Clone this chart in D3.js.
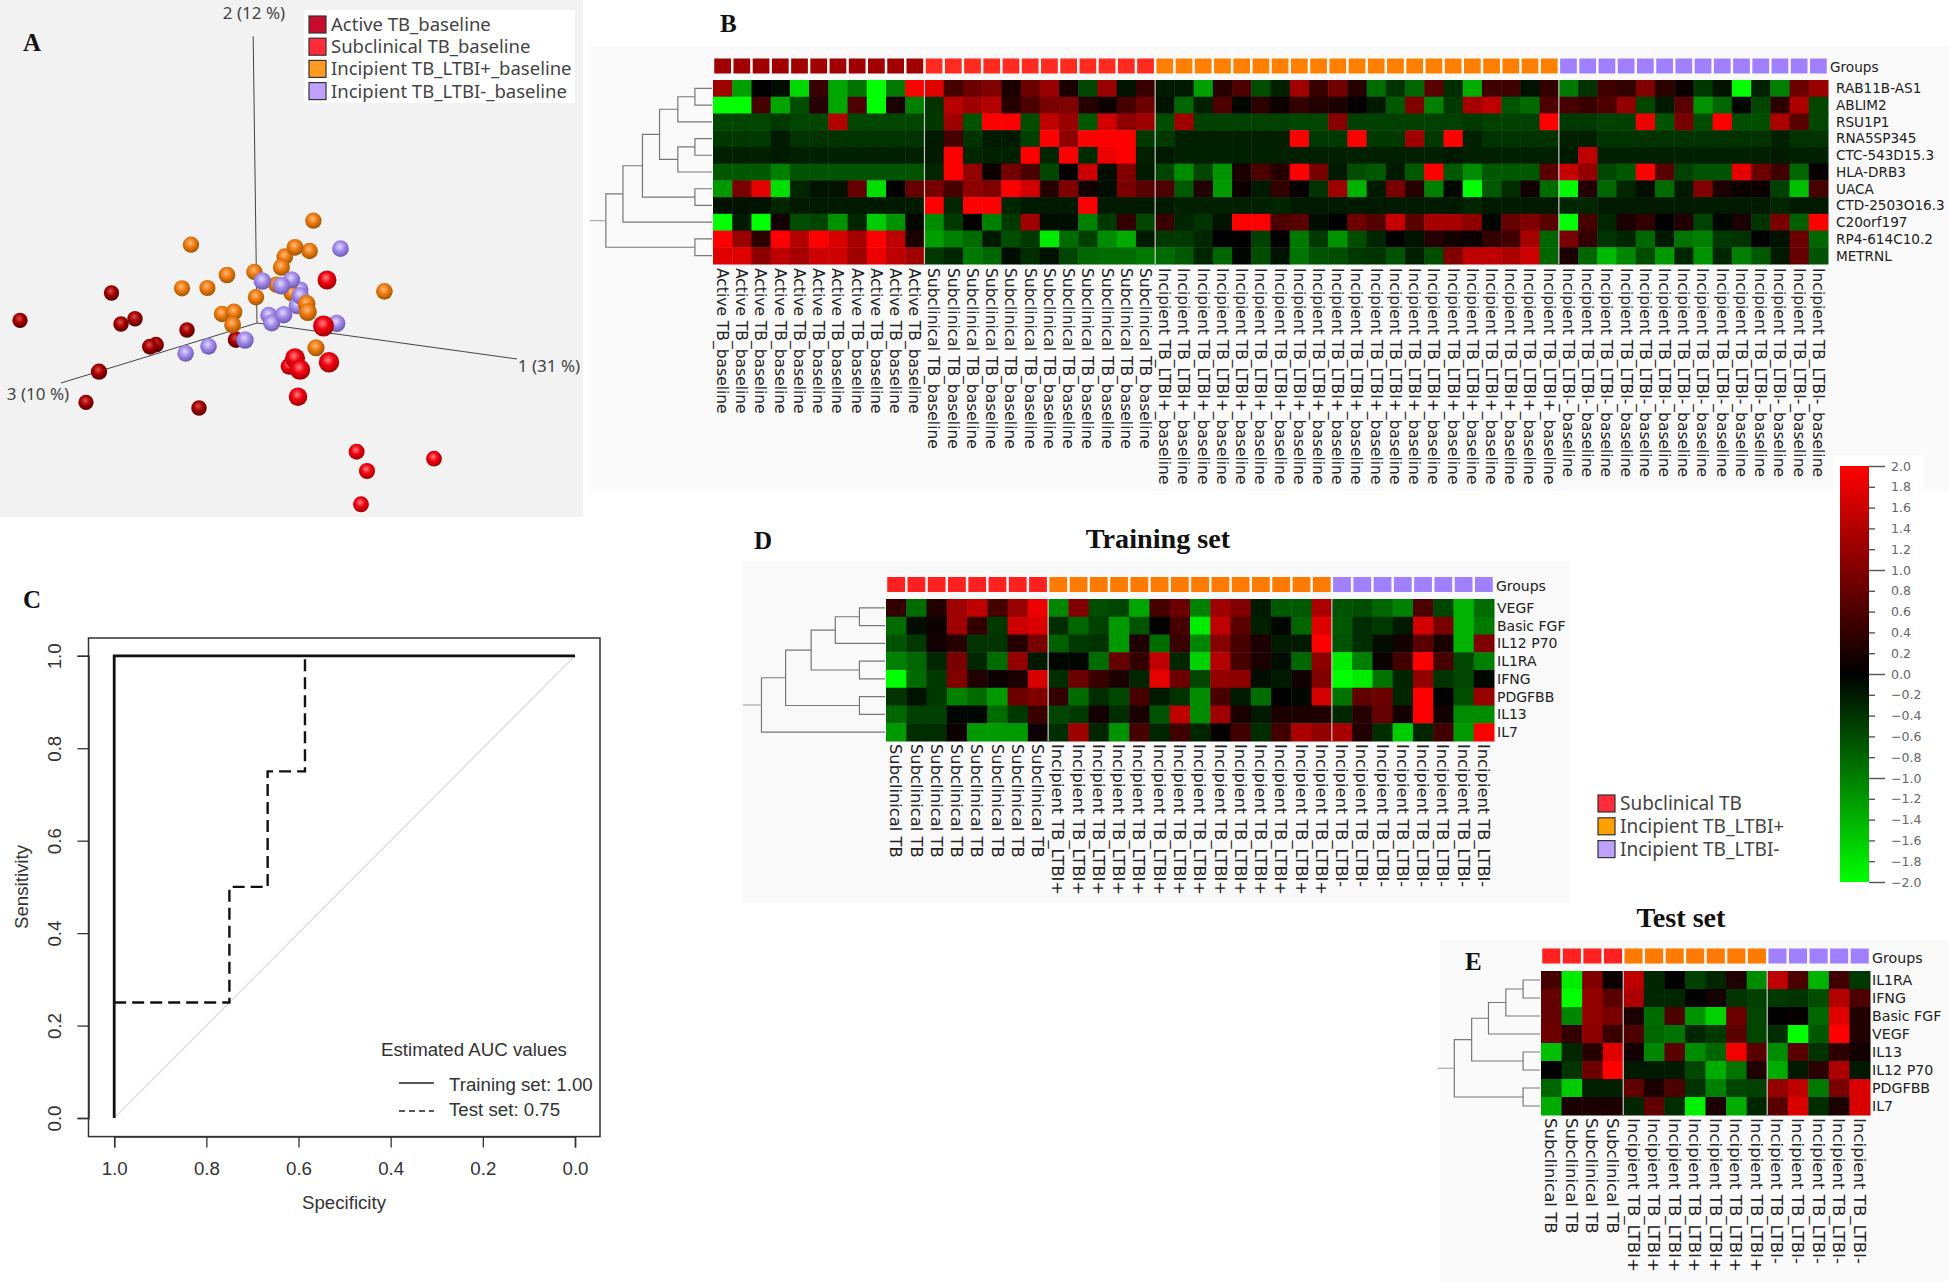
<!DOCTYPE html>
<html>
<head>
<meta charset="utf-8">
<title>TB baseline signatures</title>
<script src="https://cdn.jsdelivr.net/npm/d3@7"></script>
<style>
  html, body { margin: 0; padding: 0; background: #fff; }
  svg { display: block; }
  text { font-family: "DejaVu Sans", sans-serif; }
  .panel { font-family: "Liberation Serif", serif; font-weight: bold; fill: #111; }
  .soft { font-family: "Noto Sans", sans-serif; fill: #444; }
  .roc text { font-family: "Liberation Sans", sans-serif; fill: #333; }
</style>
</head>
<body>
<svg id="fig" width="1949" height="1281"></svg>
<script>
// ---- panel A: projected scores [pc horizontal, pc vertical, depth]
const activeScores = [[-145.5,30,.12],[-237,2.7,.12],[-122,4.3,.14],[-136,-1,.15],[-70,-7,.15],[-101,-21.7,.18],[-107,-23.7,.2],[-21,-16.7,.28],[-158,-48.7,.25],[-171,-79.3,.12],[-58,-85,.14]];
const subclinicalScores = [[70,43,.6],[66.5,-3,.85],[72,-39.3,.8],[38,-35.3,.75],[32,-43.3,.3],[43,-46.7,.78],[41,-73.7,.55],[99.6,-128.7,.2],[110,-148,.22],[177,-135.7,.18],[104,-181.3,.2]];
const ltbiPosScores = [[56.4,102.3,.25],[-66,78.3,.25],[38,75.7,.32],[52.6,72,.28],[27.8,66.3,.3],[24.4,55.7,.35],[-30,48,.3],[-2.6,51,.27],[-75,34.7,.24],[-49.6,35,.24],[127.4,31.7,.3],[19.5,38.3,.28],[34.6,30,.3],[-1,25.7,.27],[49.6,19.3,.45],[50.8,11,.5],[-35,9,.27],[-23,11,.31],[-24.4,-1.7,.33],[59,-24.7,.36]];
const ltbiNegScores = [[83.5,74.3,.3],[5.3,42,.4],[34.6,43.3,.36],[24.4,37.3,.42],[43.2,33.3,.29],[43.2,27.3,.4],[40.2,17.3,.38],[11.7,7.7,.33],[26.7,8.3,.4],[14.7,0,.35],[79.7,-.3,.4],[-12,-17,.4],[-48.5,-23.3,.3],[-71.4,-30.3,.3]];
const axisEnds = [[-3.8,286.7,"2 (12 %)"],[260,-36,"1 (31 %)"],[-196,-60,"3 (10 %)"]];

const legendA = ["Active TB_baseline","Subclinical TB_baseline","Incipient TB_LTBI+_baseline","Incipient TB_LTBI-_baseline"];
const legendD = ["Subclinical TB","Incipient TB_LTBI+","Incipient TB_LTBI-"];

// ---- panel B
const genesB = ["RAB11B-AS1","ABLIM2","RSU1P1","RNA5SP345","CTC-543D15.3","HLA-DRB3","UACA","CTD-2503O16.3","C20orf197","RP4-614C10.2","METRNL"];
const groupCountsB = [["Active TB_baseline",11],["Subclinical TB_baseline",12],["Incipient TB_LTBI+_baseline",21],["Incipient TB_LTBI-_baseline",14]];
const valuesB = [
 [1.25,-1.25,0,-.1,-1.7,.45,-1.3,-.9,-2,-.95,2,
  1.75,.55,.85,1,.2,.85,1.2,.2,-.55,1.2,-.15,.45,
  -.2,-.2,-1.25,.3,.6,-.6,-.25,1.25,.45,.9,.3,-.85,-.4,-.8,.7,-.35,-1.35,.5,.5,-.15,.4,
  -.95,-.4,.5,.4,1,.35,.1,-.45,-.15,-2,-.25,-1,.85,1.2],
 [-2,-2,.55,-1.3,-.6,.3,-1.3,.6,-2,.2,-1,
  -.4,1.45,1.25,1.4,.3,.6,.95,1,.3,.1,.55,.85,
  -.15,-.8,-.25,.6,-.05,.35,.1,.4,.25,.2,.05,-.2,-.7,1,-1,-.45,1.3,1.5,-.65,-.85,.6,
  .55,.45,.6,1.15,-.55,-.2,.7,-1.15,-.8,-.05,-.55,.35,1.35,-.55],
 [-.55,-.55,-.55,-.45,-.55,-.55,1.4,-.55,-.55,-.55,-.55,
  -.45,1.25,-.65,2,2,-.6,1.5,1.2,-.7,1.65,1.1,1.25,
  -.6,1.25,-.5,-.5,-.5,-.5,-.5,-.55,-.55,1.05,-.5,-.5,-.5,-.5,-.5,-.5,-.45,-.5,-.5,-.5,2,
  -.45,-.45,-.5,-.5,1.85,-.65,.95,-.6,2,-.6,-.6,1.35,.7,-.55],
 [-.45,-.45,-.45,-.2,-.4,-.4,-.4,-.4,-.4,-.4,-.4,
  -.2,.55,-.4,-.2,-.2,-.5,2,1.1,2,2,2,-.45,
  -.45,-.25,-.25,-.25,-.25,-.25,-.25,2,-.45,-.45,2,-.45,-.45,1.25,-.45,2,-.25,-.4,-.4,-.4,-.4,
  -.25,-.25,-.4,-.4,-.4,-.4,-.4,-.4,-.4,-.4,-.4,-.25,-.4,-.4],
 [-.25,-.25,-.25,-.2,-.25,-.25,-.25,-.25,-.25,-.25,-.25,
  -.2,2,-.3,-.25,-.25,2,-.3,2,-.35,1.85,2,-.25,
  -.2,-.25,-.25,-.25,-.25,-.25,-.25,-.25,-.25,-.25,-.25,-.25,-.25,-.25,-.25,-.2,-.25,-.25,-.25,-.25,-.25,
  -.2,1.5,-.25,-.25,-.25,-.25,-.25,-.25,-.25,-.25,-.25,-.2,-.25,-.25],
 [-.7,-.7,-.7,-1,-.65,-.65,-.65,-.65,-.65,-.65,-.65,
  -.3,2,1.15,.1,.9,.6,-.55,0,1.6,-.1,1,-.2,
  -.55,-1.1,-.55,-1.15,.2,.6,.3,2,.95,-.2,-.6,-.7,-.2,-.7,2,-.7,-1.1,-.7,-.7,-.7,.7,
  1.55,1.15,-.55,-.7,2,.7,-.5,-.65,-.65,1.8,.85,.5,-.8,.05],
 [-1.2,.95,1.8,-1.75,-.3,-.15,-.15,.8,-1.75,0,.8,
  .95,.55,1.1,1,2,1.65,.3,1,.15,-.1,.95,.7,
  .6,-.7,.25,-1.2,.1,-.2,.4,.05,-.4,1.25,-1.4,-.2,.95,.3,-1,-.05,-2,-.7,-.35,.15,-.85,
  -1.95,.3,-.8,-.3,-.1,-.85,-.2,1,.2,.1,.1,-.5,-1.5,.55],
 [-.15,-.15,-.15,-.3,-.2,-.2,-.2,-.2,-.2,-.2,-.2,
  2,-.3,2,2,-.3,-.2,-.2,-.2,2,-.2,-.2,-.2,
  -.2,-.25,-.25,-.25,-.25,-.25,-.3,-.2,-.2,-.2,-.2,-.2,-.2,-.2,-.2,-.2,-.3,-.2,-.2,-.2,-.2,
  -.3,-.3,-.2,-.2,-.2,-.2,-.2,-.2,-.2,-.2,-.2,-.3,-.2,-.2],
 [-2,-.2,-2,.15,-.6,-.55,-1.15,-.3,-1.6,-1.15,-.05,
  -1.1,-.45,0,-1,-.45,1.25,-.1,-.1,-1,-.45,.4,-.55,
  .45,-.3,-.4,-.15,2,2,.6,.7,-.1,0,.85,.65,1.55,.7,1.3,1.3,1.1,-.05,.8,1,.7,
  -2,.55,-.3,.2,.4,0,.25,-.5,-.05,.2,-.4,.95,-.75,2],
 [2,1.2,.35,2,1.4,2,1.7,1.3,2,1.5,.2,
  -1.25,-1,-.85,-.2,-.6,-.45,-1.85,-.85,-.5,-1.1,-1.35,-.2,
  -.45,-.45,-.3,0,0,-.5,0,-.95,-.45,-1.15,-.6,-.3,0,-.15,.3,.15,.1,.4,.5,1.3,-.8,
  .95,.4,-.4,-.3,-.8,-.2,-.9,-1,-.45,-.4,0,-.15,.85,-.8],
 [1.75,1.75,1.1,1.5,1.3,1.6,1.6,1.25,1.85,1.5,1.25,
  -.45,-.3,-.95,-.8,-.1,-.35,-.15,-.55,-.8,-.85,-.85,-.95,
  -.85,-.7,-.3,-.8,-.05,-.6,-.15,-.9,-.65,-.6,-.45,-.4,-.65,-.25,-.6,1,1.5,1.5,1.35,1.6,-.8,
  .2,-.8,-1.45,-1.05,-.6,-1.2,-.3,-1.15,-.3,-1,-.7,-.2,.8,-.65]
];
// merges: [left, right, height]; >=0 is a row, <0 is merge number -(i+1)
const mergesB = [[0,1,.14],[-1,2,.28],[3,4,.14],[-3,5,.28],[-2,-4,.43],[6,7,.14],[-5,-6,.57],[-7,8,.73],[9,10,.14],[-8,-9,.87]];

// ---- panel D
const cytokinesD = ["VEGF","Basic FGF","IL12 P70","IL1RA","IFNG","PDGFBB","IL13","IL7"];
const groupCountsD = [["Subclinical TB",8],["Incipient TB_LTBI+",14],["Incipient TB_LTBI-",8]];
const valuesD = [
 [.4,-.85,.25,1.25,1.5,.55,1.2,1.85, -1.05,1,-.6,-.55,-1.3,.55,.85,-1,1.25,1,-.2,-.7,-.7,1.35, -.65,-.6,-.8,-1,.6,-.55,-1.4,-.85],
 [-.85,-.1,.1,1.25,.4,-.45,1.6,1.7, -.35,-.8,-.5,-1.2,-.65,0,.55,-1.85,1.5,.7,-.25,-.05,-.8,1.75, -.7,-.35,-.45,-.2,1.65,.95,-1.4,-.95],
 [-.65,-.45,.15,.3,-.4,-.4,.3,.95, -.75,-.45,-.4,-1.2,.25,-.85,.45,-1.05,1.05,.55,.2,-.2,-.2,2, -.65,-.35,-.1,.15,.7,.2,-1.4,1],
 [-1,-.8,-.3,.95,-.3,-.85,1.15,-.2, -.05,-.05,-.85,.8,.4,1.5,-.3,-1.65,1.4,.55,.2,-.1,-.8,1.1, -1.85,-1,.1,.5,2,.55,-.55,-1],
 [-2,-.85,-.45,1,.25,.1,.2,1.7, -.35,.85,.45,.2,-.3,1.8,.85,-.55,1.15,1.1,-.1,-.2,.15,1, -2,-1.85,-.9,-.3,1.15,-.4,-.55,-.05],
 [-.4,-.15,-.45,-1,-.85,-1.2,.85,1, .4,-.85,-.35,-.55,.55,-.2,-.4,-1.1,.55,-.2,-.85,0,-.05,1.65, -.9,.75,.85,-.3,2,0,-.6,1.2],
 [-.8,-.5,-.5,-.05,-.05,-.85,-.45,.45, -.55,-.45,.15,-.35,.2,-.65,1.5,-1.1,1.25,.2,-.2,.2,.2,.25, -.3,.3,.8,.15,2,.15,-1.1,-1.1],
 [-1.2,-.35,-.35,.1,-1.2,-1.2,-1.2,.1, -.35,1.25,-.3,-1.15,.55,-.3,.5,-.3,.05,.5,-.35,.5,1.35,1.15, 1.3,.25,-.35,-1.6,-.3,.5,-1.2,2]
];
const mergesD = [[0,1,.18],[-1,2,.35],[3,4,.18],[-2,-3,.52],[5,6,.18],[-4,-5,.7],[-6,7,.87]];

// ---- panel E
const cytokinesE = ["IL1RA","IFNG","Basic FGF","VEGF","IL13","IL12 P70","PDGFBB","IL7"];
const groupCountsE = [["Subclinical TB",4],["Incipient TB_LTBI+",7],["Incipient TB_LTBI-",5]];
const valuesE = [
 [.55,-1.85,1,.1, 1.5,-.3,0,-.5,-.3,.25,-1.1, 1.5,.6,-1.4,.5,-.45],
 [.8,-2,1.15,.7, 1.35,-.3,-.3,0,.15,-.4,-.5, -.45,-.4,-.6,1.4,.6],
 [.8,-1.05,1.15,.95, .2,-.85,.6,-1.15,-1.65,.85,-.55, 0,.05,-.8,1.75,.25],
 [.85,.4,1.1,.45, .6,-.8,-.9,-.3,-.45,.7,-.55, -.35,-2,-.7,2,.25],
 [-1.5,-.3,.3,1.75, .15,-1.05,.7,-1.1,-.8,1.9,.7, -1.1,.7,-.4,.35,.15],
 [0,-.4,.85,2, -.2,-.2,-.2,-.55,-1.35,-.9,.25, -1.35,-.2,.35,1.35,-.2],
 [-.8,-1.6,-.25,-.25, .75,.2,.6,-.4,-1,-.55,-.5, 1.15,1.5,-.95,.95,1.7],
 [-1.35,.2,.2,.2, -.3,.75,-.35,-1.9,.2,-1.35,-.3, .7,1.7,-.35,.2,1.7]
];
const mergesE = [[0,1,.166],[-1,2,.335],[-2,3,.505],[4,5,.166],[-3,-4,.67],[6,7,.166],[-5,-6,.84]];

// ---- panel C
const rocTraining = [[1,0],[1,1],[0,1]];
const rocTest = [[1,.25],[.75,.25],[.75,.5],[.667,.5],[.667,.75],[.586,.75],[.586,1]];
const rocTicks = [0,.2,.4,.6,.8,1];

// ---- colour bar
const barTicks = d3.range(-20, 21, 2).map(d => d / 10);

const svg = d3.select("#fig");
const heatColor = d3.scaleLinear().domain([-2,0,2]).range(["#00ff00","#000000","#ff0000"]).clamp(true);
const groupFill = {
  "Active TB_baseline": "#a00000",
  "Subclinical TB_baseline": "#ff2a20",
  "Incipient TB_LTBI+_baseline": "#ff8000",
  "Incipient TB_LTBI-_baseline": "#a080ff",
  "Subclinical TB": "#ff2020",
  "Incipient TB_LTBI+": "#ff7a00",
  "Incipient TB_LTBI-": "#a080ff"
};

// panel backgrounds
[[0,0,583,517,"#f2f2f2"],[589,46,1360,445,"#fafafa"],[743,562,827,340,"#f9f9f9"],[1440,940,509,341,"#fafafa"],[1833,455,90,36,"#ffffff"]]
  .forEach(b => svg.append("rect").attr("x",b[0]).attr("y",b[1]).attr("width",b[2]).attr("height",b[3]).attr("fill",b[4]));

// panel letters and titles
[["A",23,51,25],["B",720,32,25],["C",23,608,25],["D",754,549,25],["E",1465,970,25]].forEach(l => {
  svg.append("text").attr("class","panel").attr("x",l[1]).attr("y",l[2]).style("font-size",l[3]+"px").text(l[0]);
});
[["Training set",1158,548],["Test set",1681,927]].forEach(t => {
  svg.append("text").attr("class","panel").attr("x",t[1]).attr("y",t[2]).attr("text-anchor","middle").style("font-size","28.2px").text(t[0]);
});

function drawHeatmap(opts) {
  const { values, rows, counts, merges, x0, x1, y0, y1, stripY, stripH, treeLeft, groupX, labelX, colFont, rowFont, colY } = opts;
  const cols = [];
  counts.forEach(c => d3.range(c[1]).forEach(() => cols.push(c[0])));

  const x = d3.scaleBand().domain(d3.range(cols.length)).range([x0, x1]);
  const y = d3.scaleBand().domain(d3.range(rows.length)).range([y0, y1]);
  const g = svg.append("g");

  // group strip
  g.selectAll(".strip").data(cols).enter().append("rect")
    .attr("class","strip")
    .attr("x",(d,i) => x(i) + 1.25)
    .attr("y",stripY)
    .attr("width",x.bandwidth() - 2.5)
    .attr("height",stripH)
    .attr("fill",d => groupFill[d]);
  g.append("text").attr("x",groupX).attr("y",stripY + stripH / 2 + 1.5).attr("dy",".36em")
    .style("font-size",rowFont + "px").attr("fill","#222").text("Groups");

  // cells
  rows.forEach((r,ri) => {
    g.selectAll(".cell" + ri).data(values[ri]).enter().append("rect")
      .attr("class","cell" + ri)
      .attr("x",(d,i) => x(i))
      .attr("y",y(ri))
      .attr("width",x.bandwidth() + .5)
      .attr("height",y.bandwidth() + .5)
      .attr("fill",d => heatColor(d));
    g.append("text").attr("x",labelX).attr("y",y(ri) + y.bandwidth() / 2).attr("dy",".36em")
      .style("font-size",rowFont + "px").attr("fill","#222").text(r);
  });

  // group dividers
  let run = 0;
  counts.slice(0,-1).forEach(c => {
    run += c[1];
    g.append("line").attr("x1",x(run)).attr("x2",x(run)).attr("y1",y0).attr("y2",y1)
      .attr("stroke","#c8c8c8").attr("stroke-width",1.2);
  });

  // column labels
  g.selectAll(".collab").data(cols).enter().append("text")
    .attr("class","collab")
    .attr("transform",(d,i) => `translate(${x(i) + x.bandwidth() / 2},${colY}) rotate(90)`)
    .attr("dy",".36em")
    .style("font-size",colFont + "px")
    .attr("fill","#222")
    .text(d => d);

  // dendrogram
  const h = d3.scaleLinear().domain([0,1]).range([x0 - 1,treeLeft]);
  const nodes = [];
  const pos = id => id >= 0 ? { y: y(id) + y.bandwidth() / 2, x: h(0) } : nodes[-id - 1];
  merges.forEach(m => {
    const a = pos(m[0]), b = pos(m[1]), nx = h(m[2]);
    g.append("path")
      .attr("d",`M${a.x},${a.y}H${nx}V${b.y}H${b.x}`)
      .attr("fill","none").attr("stroke","#777").attr("stroke-width",1.2);
    nodes.push({ x: nx, y: (a.y + b.y) / 2 });
  });
  const root = nodes[nodes.length - 1];
  g.append("line").attr("x1",root.x).attr("x2",h(1)).attr("y1",root.y).attr("y2",root.y)
    .attr("stroke","#aaa").attr("stroke-width",1.2);
}

drawHeatmap({ values: valuesB, rows: genesB, counts: groupCountsB, merges: mergesB, x0: 713, x1: 1828, y0: 80, y1: 264, stripY: 58.5, stripH: 15, treeLeft: 590, groupX: 1830, labelX: 1836, colFont: 15.5, rowFont: 13.6, colY: 268 });
drawHeatmap({ values: valuesD, rows: cytokinesD, counts: groupCountsD, merges: mergesD, x0: 886, x1: 1494, y0: 599, y1: 741, stripY: 577, stripH: 15, treeLeft: 743, groupX: 1496, labelX: 1497, colFont: 16.3, rowFont: 14, colY: 744 });
drawHeatmap({ values: valuesE, rows: cytokinesE, counts: groupCountsE, merges: mergesE, x0: 1541, x1: 1870, y0: 971, y1: 1115, stripY: 948.5, stripH: 15, treeLeft: 1438, groupX: 1872, labelX: 1872, colFont: 16.6, rowFont: 14.2, colY: 1118 });

// ---- panel A
const pcaX = d3.scaleLinear().domain([-257,330]).range([0,587]);
const pcaY = d3.scaleLinear().domain([-194,323]).range([517,0]);
const sphereR = d3.scaleLinear().domain([0,1]).range([7.2,11]);
const defs = svg.append("defs");
const sphereStops = {
  active: ["#d85050","#a80000","#4a0000"],
  sub: ["#ff8080","#f00010","#960000"],
  pos: ["#ffbc7c","#ee7a10","#955000"],
  neg: ["#e2d8ff","#a48cec","#6652a8"]
};
Object.keys(sphereStops).forEach(k => {
  const grad = defs.append("radialGradient").attr("id","ball-" + k).attr("cx","45%").attr("cy","38%").attr("r","65%");
  [0,.45,1].forEach((o,i) => grad.append("stop").attr("offset",o).attr("stop-color",sphereStops[k][i]));
});
axisEnds.forEach(a => {
  svg.append("line").attr("x1",pcaX(0)).attr("y1",pcaY(0)).attr("x2",pcaX(a[0])).attr("y2",pcaY(a[1]))
    .attr("stroke","#444").attr("stroke-width",1);
});
[["2 (12 %)",254,19],["1 (31 %)",549,372],["3 (10 %)",38,400]].forEach(t => {
  svg.append("text").attr("class","soft").attr("x",t[1]).attr("y",t[2]).attr("text-anchor","middle").style("font-size","17px").text(t[0]);
});
const balls = [];
activeScores.forEach(d => balls.push({ d, k: "active" }));
subclinicalScores.forEach(d => balls.push({ d, k: "sub" }));
ltbiPosScores.forEach(d => balls.push({ d, k: "pos" }));
ltbiNegScores.forEach(d => balls.push({ d, k: "neg" }));
balls.sort((a,b) => a.d[2] - b.d[2]);
svg.selectAll(".ball").data(balls).enter().append("circle")
  .attr("class","ball")
  .attr("cx",b => pcaX(b.d[0]))
  .attr("cy",b => pcaY(b.d[1]))
  .attr("r",b => sphereR(b.d[2]))
  .attr("fill",b => `url(#ball-${b.k})`);

svg.append("rect").attr("x",304).attr("y",10).attr("width",271).attr("height",93).attr("fill","#fff");
const swatchA = ["#c80a2c","#ff2a3a","#ff9a20","#c0a0ff"];
legendA.forEach((t,i) => {
  svg.append("rect").attr("x",309).attr("y",16 + i * 22.2).attr("width",17).attr("height",17)
    .attr("fill",swatchA[i]).attr("stroke","#333").attr("stroke-width",1.2);
  svg.append("text").attr("class","soft").attr("x",331).attr("y",31 + i * 22.2).style("font-size","18.5px").text(t);
});

// ---- legend next to panel D
const swatchD = ["#ff2a3a","#ffa000","#c0a0ff"];
legendD.forEach((t,i) => {
  svg.append("rect").attr("x",1598).attr("y",795 + i * 22.8).attr("width",17).attr("height",17)
    .attr("fill",swatchD[i]).attr("stroke","#333").attr("stroke-width",1.2);
  svg.append("text").attr("class","soft").attr("x",1620).attr("y",810 + i * 22.8).style("font-size","19px").text(t);
});

// ---- colour bar
const barY = d3.scaleLinear().domain([-2,2]).range([882,466]);
const grad = defs.append("linearGradient").attr("id","barGrad").attr("x1",0).attr("x2",0).attr("y1",1).attr("y2",0);
[-2,0,2].forEach(v => grad.append("stop").attr("offset",(v + 2) / 4).attr("stop-color",heatColor(v)));
svg.append("rect").attr("x",1840).attr("y",466).attr("width",29).attr("height",416).attr("fill","url(#barGrad)");
const barG = svg.append("g").attr("transform","translate(1869,0)");
barG.call(d3.axisRight(barY).tickValues(barTicks).tickFormat(d3.format(".1f")).tickSize(6).tickPadding(16));
barG.select(".domain").remove();
barG.selectAll(".tick line").attr("stroke","#555").attr("stroke-width",1.4)
  .attr("x2",d => Math.abs(d % 1) < .001 ? 16 : 6);
barG.selectAll(".tick text").attr("fill","#666").style("font-size","12.5px").style("font-family",'"DejaVu Sans", sans-serif').attr("x",22);

// ---- panel C
const specX = d3.scaleLinear().domain([1,0]).range([114.2,575]);
const sensY = d3.scaleLinear().domain([0,1]).range([1118,655.8]);
const rocLine = d3.line().x(d => specX(d[0])).y(d => sensY(d[1]));
const roc = svg.append("g").attr("class","roc");
roc.append("line").attr("x1",specX(1)).attr("y1",sensY(0)).attr("x2",specX(0)).attr("y2",sensY(1))
  .attr("stroke","#dedede").attr("stroke-width",1.4);
roc.append("path").datum(rocTest).attr("d",rocLine).attr("fill","none").attr("stroke","#111").attr("stroke-width",2.4).attr("stroke-dasharray","12,6");
roc.append("path").datum(rocTraining).attr("d",rocLine).attr("fill","none").attr("stroke","#111").attr("stroke-width",2.8);
roc.append("rect").attr("x",88.5).attr("y",638).attr("width",511.5).attr("height",498.6).attr("fill","none").attr("stroke","#333").attr("stroke-width",1.5);

const xAxisG = roc.append("g").attr("transform","translate(0,1136.6)")
  .call(d3.axisBottom(specX).tickValues(rocTicks).tickFormat(d3.format(".1f")).tickSize(11).tickPadding(14));
const yAxisG = roc.append("g").attr("transform","translate(88.5,0)")
  .call(d3.axisLeft(sensY).tickValues(rocTicks).tickFormat(d3.format(".1f")).tickSize(11));
[xAxisG,yAxisG].forEach(a => {
  a.select(".domain").attr("stroke","#333").attr("stroke-width",1.5);
  a.selectAll(".tick line").attr("stroke","#333").attr("stroke-width",1.3);
  a.selectAll(".tick text").style("font-size","18.7px").attr("fill","#333");
});
yAxisG.selectAll(".tick text")
  .attr("x",null).attr("dy",null)
  .attr("text-anchor","middle")
  .attr("transform","translate(-28,0) rotate(-90)");

roc.append("text").attr("x",344).attr("y",1209).attr("text-anchor","middle").style("font-size","18.7px").text("Specificity");
roc.append("text").attr("transform","translate(28,887) rotate(-90)").attr("text-anchor","middle").style("font-size","18.7px").text("Sensitivity");
roc.append("text").attr("x",381).attr("y",1056).style("font-size","18.7px").text("Estimated AUC values");
roc.append("text").attr("x",449).attr("y",1091).style("font-size","18.7px").text("Training set: 1.00");
roc.append("text").attr("x",449).attr("y",1116).style("font-size","18.7px").text("Test set: 0.75");
roc.append("line").attr("x1",399).attr("x2",434).attr("y1",1083).attr("y2",1083).attr("stroke","#222").attr("stroke-width",1.4);
roc.append("line").attr("x1",399).attr("x2",434).attr("y1",1111).attr("y2",1111).attr("stroke","#222").attr("stroke-width",1.4).attr("stroke-dasharray","6,4");
</script>
</body>
</html>
